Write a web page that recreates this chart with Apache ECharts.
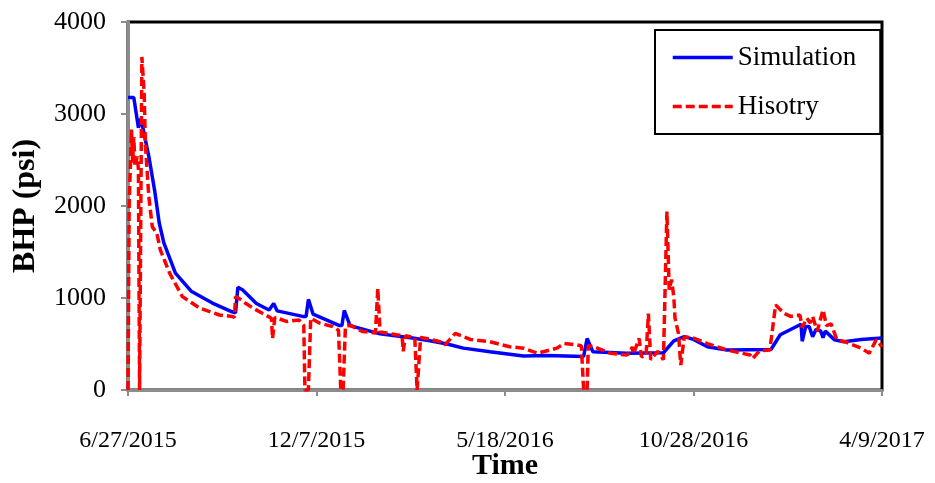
<!DOCTYPE html>
<html>
<head>
<meta charset="utf-8">
<script src="https://cdn.jsdelivr.net/npm/echarts@6/dist/echarts.min.js"></script>
<style>
  html, body { margin: 0; padding: 0; background: #fff; }
  #chart { width: 935px; height: 483px; }
</style>
</head>
<body>
<div id="chart"></div>
<script>
// Start date of the record; x values are days since this date.
const startDate = Date.UTC(2015, 5, 27);
const xMax = 652;        // 4/9/2017
const xStep = 163;       // tick spacing in days

// Simulated bottom-hole pressure (psi)
const simDays = [0, 5, 9, 11, 12, 18, 23, 27, 31, 41, 55, 73, 90, 93, 95, 99, 111, 122, 126, 129, 151, 154, 156, 160, 183, 185, 187, 192, 218, 246, 261, 276, 290, 313, 342, 362, 394, 397, 402, 431, 463, 472, 481, 489, 501, 518, 556, 564, 582, 583, 586, 589, 592, 595, 599, 601, 603, 611, 619, 634, 652];
const simBHP  = [3180, 3180, 2850, 2950, 2900, 2540, 2170, 1815, 1600, 1270, 1070, 945, 850, 840, 1115, 1090, 940, 870, 940, 860, 800, 800, 985, 825, 700, 700, 865, 700, 610, 565, 535, 500, 455, 415, 370, 375, 365, 560, 415, 400, 405, 535, 580, 550, 470, 435, 440, 600, 715, 530, 690, 690, 580, 660, 640, 570, 640, 545, 525, 550, 565];

// Recorded bottom-hole pressure history (psi)
const histDays = [0, 1, 3, 4, 5, 6, 8, 9, 10, 11, 12, 14, 15, 18, 21, 25, 28, 36, 47, 62, 79, 90, 92, 93, 98, 102, 108, 119, 124, 125, 127, 137, 148, 152, 153, 156, 158, 166, 177, 182, 184, 186, 188, 192, 203, 214, 216, 218, 232, 237, 238, 240, 248, 250, 251, 253, 258, 270, 274, 283, 296, 313, 330, 342, 354, 371, 377, 388, 392, 394, 397, 398, 403, 417, 431, 434, 436, 437, 442, 444, 448, 450, 452, 458, 463, 466, 468, 470, 472, 473, 476, 478, 481, 489, 501, 518, 538, 540, 546, 555, 560, 567, 573, 581, 583, 587, 590, 592, 596, 601, 604, 608, 613, 620, 634, 641, 647, 652];
const histBHP  = [0, 2000, 2830, 2470, 2750, 2430, 2540, 2400, 0, 0, 3620, 3220, 2680, 2100, 1775, 1700, 1520, 1270, 1015, 890, 815, 800, 790, 1015, 980, 940, 890, 815, 780, 560, 790, 745, 760, 700, 0, 0, 780, 725, 690, 650, 0, 0, 690, 705, 635, 620, 1105, 630, 600, 590, 420, 590, 570, 0, 0, 570, 560, 525, 490, 615, 550, 525, 470, 455, 400, 455, 505, 490, 480, 0, 0, 480, 470, 400, 380, 400, 470, 390, 560, 360, 380, 830, 330, 420, 330, 1940, 1090, 1200, 1010, 780, 615, 270, 580, 565, 505, 435, 380, 340, 425, 435, 925, 835, 800, 815, 680, 780, 730, 800, 640, 870, 700, 720, 545, 525, 455, 400, 545, 470];

const yTicks = { min: 0, max: 4000, interval: 1000 };

function pairs(xs, ys) {
  return xs.map((x, i) => [x, ys[i]]);
}

function dayLabel(d) {
  const dt = new Date(startDate + d * 86400000);
  return (dt.getUTCMonth() + 1) + '/' + dt.getUTCDate() + '/' + dt.getUTCFullYear();
}

const serif = '"Liberation Serif", "Times New Roman", serif';
const axisGray = '#8c8c8c';

const chart = echarts.init(document.getElementById('chart'), null, { renderer: 'canvas' });

chart.setOption({
  backgroundColor: '#fff',
  animation: false,
  grid: {
    left: 128, right: 53, top: 22, bottom: 93,
    outerBoundsMode: 'none',
    containLabel: false,
    show: true,
    borderColor: '#000',
    borderWidth: 3,
    backgroundColor: 'transparent'
  },
  legend: {
    orient: 'vertical',
    left: 655,
    top: 30,
    padding: [14, 24, 14, 16],
    itemWidth: 60,
    itemHeight: 26,
    itemGap: 22,
    borderColor: '#000',
    borderWidth: 2,
    backgroundColor: '#fff',
    itemStyle: { opacity: 0 },
    lineStyle: { width: 3.5 },
    textStyle: { fontFamily: serif, fontSize: 27, color: '#000', lineHeight: 26 },
    data: ['Simulation', 'Hisotry']
  },
  xAxis: {
    type: 'value',
    min: 0,
    max: xMax,
    interval: xStep,
    name: 'Time',
    nameLocation: 'middle',
    nameGap: 61,
    nameMoveOverlap: false,
    nameTextStyle: { fontFamily: serif, fontSize: 30, fontWeight: 'bold', color: '#000' },
    axisLine: { show: true, lineStyle: { color: axisGray, width: 3 } },
    axisTick: { show: true, length: 6, lineStyle: { color: axisGray, width: 2 } },
    axisLabel: {
      margin: 39,
      fontFamily: serif, fontSize: 24, color: '#000',
      showMinLabel: true, showMaxLabel: true,
      formatter: v => dayLabel(v)
    },
    splitLine: { show: false }
  },
  yAxis: {
    type: 'value',
    min: yTicks.min,
    max: yTicks.max,
    interval: yTicks.interval,
    name: 'BHP (psi)',
    nameLocation: 'middle',
    nameGap: 86,
    nameMoveOverlap: false,
    nameTextStyle: { fontFamily: serif, fontSize: 32, fontWeight: 'bold', color: '#000' },
    axisLine: { show: true, lineStyle: { color: axisGray, width: 3 } },
    axisTick: { show: true, length: 7, lineStyle: { color: axisGray, width: 2 } },
    axisLabel: { margin: 22, fontFamily: serif, fontSize: 26, color: '#000', formatter: v => String(v) },
    splitLine: { show: false }
  },
  series: [
    {
      name: 'Simulation',
      type: 'line',
      data: pairs(simDays, simBHP),
      showSymbol: false,
      symbol: 'none',
      lineStyle: { color: '#0000ff', width: 3.5 },
      itemStyle: { color: '#0000ff' },
      z: 3
    },
    {
      name: 'Hisotry',
      type: 'line',
      data: pairs(histDays, histBHP),
      showSymbol: false,
      symbol: 'none',
      lineStyle: { color: '#ff0000', width: 3.5, type: [9, 4] },
      itemStyle: { color: '#ff0000' },
      z: 4
    }
  ]
});
</script>
</body>
</html>
